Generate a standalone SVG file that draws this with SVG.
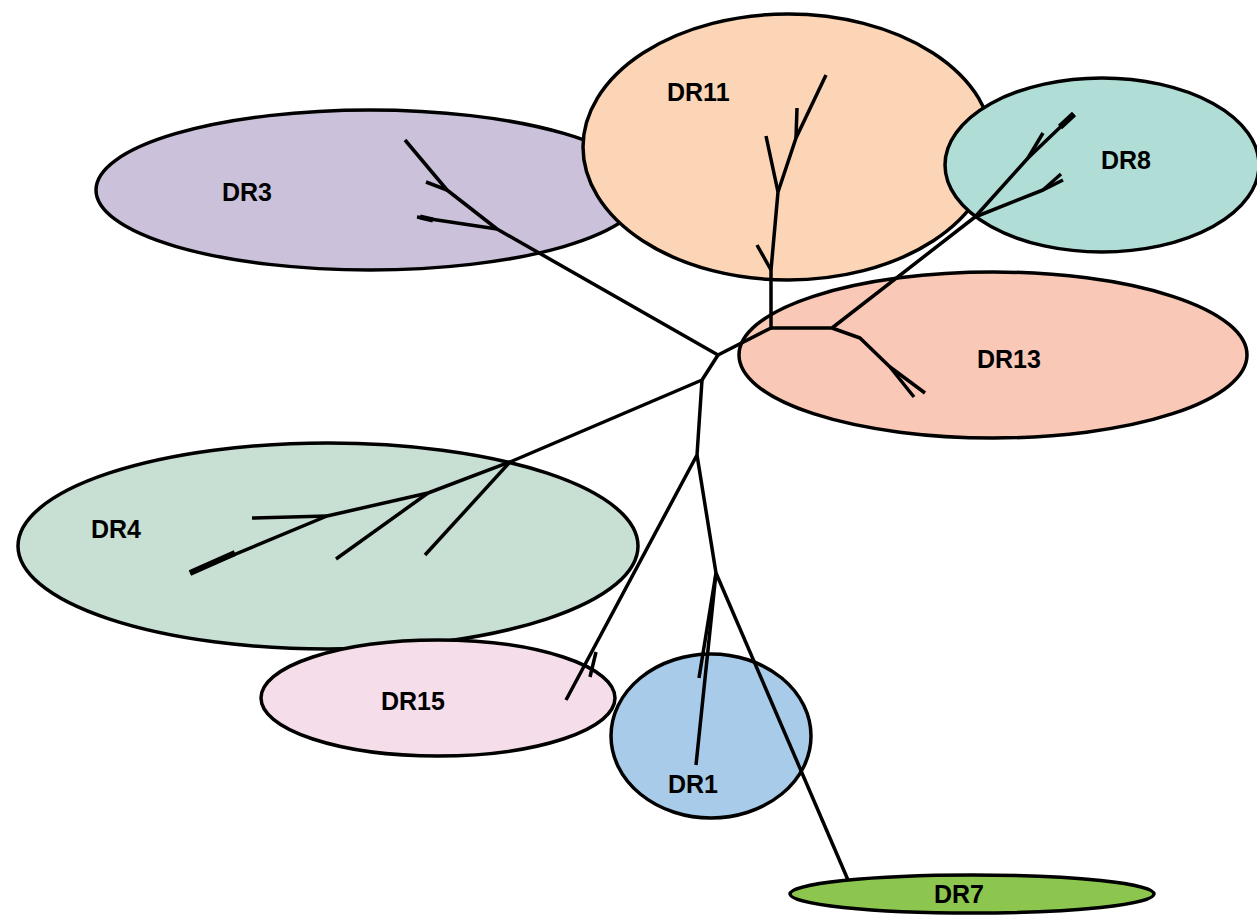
<svg xmlns="http://www.w3.org/2000/svg" width="1257" height="924" viewBox="0 0 1257 924">
<style>
.c{stroke:#000;stroke-width:3.5}
.t{font-family:"Liberation Sans",Arial,sans-serif;font-weight:bold;font-size:25px;fill:#000}
.e{fill:none;stroke:#000;stroke-width:3.5;stroke-linecap:butt;stroke-linejoin:round}
</style>
<rect width="1257" height="924" fill="#fff"/>
<g id="DR3"><ellipse class="c" cx="370" cy="190" rx="274" ry="80" fill="#CBC1DB"/><text class="t" x="222" y="201">DR3</text></g>
<g id="DR11"><ellipse class="c" cx="788" cy="147" rx="205" ry="133" fill="#FBD5B5"/><text class="t" x="667" y="101">DR11</text></g>
<g id="DR8"><ellipse class="c" cx="1102" cy="165" rx="157" ry="87" fill="#B0DDD6"/><text class="t" x="1101" y="169">DR8</text></g>
<g id="DR13"><ellipse class="c" cx="993" cy="355" rx="254" ry="83" fill="#F9C8B6"/><text class="t" x="977" y="368">DR13</text></g>
<g id="DR4"><ellipse class="c" cx="328" cy="546" rx="310" ry="103" fill="#C8DFD4"/><text class="t" x="91" y="538">DR4</text></g>
<g id="DR15"><ellipse class="c" cx="438" cy="698" rx="177" ry="58" fill="#F5DDE9"/><text class="t" x="381" y="710">DR15</text></g>
<g id="DR1"><ellipse class="c" cx="711" cy="736" rx="100" ry="82" fill="#A8CBEA"/><text class="t" x="668" y="793">DR1</text></g>
<g id="DR7"><ellipse class="c" cx="972" cy="894" rx="182" ry="19" fill="#8CC64F"/><text class="t" x="934" y="903">DR7</text></g>
<g id="connectors" class="e">
<path d="M405,140 L447,190 L497,229 L718,355"/>
<path d="M447,190 L426,182"/>
<path d="M497,229 L417,217"/>
<path d="M420,217 L433,220" stroke-width="5"/>
<path d="M718,355 L771,328 L771,270 L778,192 L796,138 L826,75"/>
<path d="M771,270 L757,245"/>
<path d="M778,192 L766,136"/>
<path d="M796,138 L797,108"/>
<path d="M771,328 L832,328 L975,217 L1028,158 L1074,114"/>
<path d="M1060,127 L1074,114" stroke-width="6"/>
<path d="M1028,158 L1043,133"/>
<path d="M975,217 L1043,190 L1063,180"/>
<path d="M1043,190 L1061,174"/>
<path d="M832,328 L860,338 L890,367 L914,397"/>
<path d="M890,367 L925,393"/>
<path d="M718,355 L702,380 L510,462 L428,493 L327,516 L190,573"/>
<path d="M190,573 L235,553" stroke-width="6"/>
<path d="M327,516 L252,518"/>
<path d="M428,493 L336,559"/>
<path d="M510,462 L425,555"/>
<path d="M702,380 L697,455 L566,700"/>
<path d="M596,652 L590,677"/>
<path d="M697,455 L716,573 L696,765"/>
<path d="M716,573 L699,678"/>
<path d="M716,573 L848,880"/>
</g>
</svg>
